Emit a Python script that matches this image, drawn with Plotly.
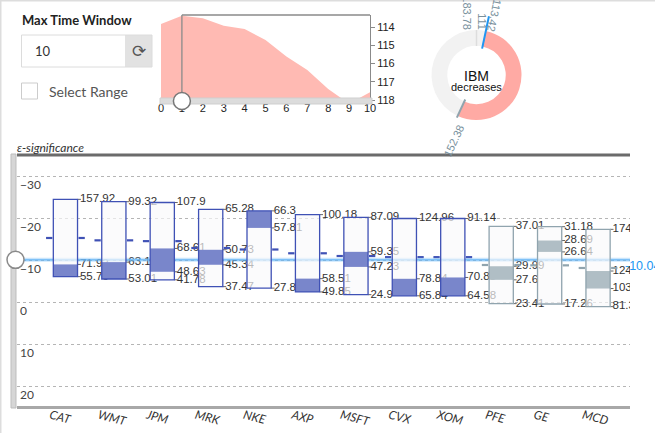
import math
import plotly.graph_objects as go

W, H = 655, 433

# ---- main chart data (epsilon-significance boxes) ----
tickers = ["CAT", "WMT", "JPM", "MRK", "NKE", "AXP", "MSFT", "CVX", "XOM", "PFE", "GE", "MCD"]
price_max = [157.92, 99.32, 107.9, 65.28, 66.3, 100.18, 87.09, 124.96, 91.14, 37.01, 31.18, 174]
price_min = [55.76, 53.01, 41.78, 37.47, 27.82, 49.85, 24.9, 65.84, 64.58, 23.41, 17.26, 81.3]
band_high = [71.92, 63.12, 68.61, 50.73, 66.3, 58.51, 59.35, 78.84, 70.88, 29.99, 28.69, 124]
band_low = [55.76, 53.01, 48.63, 45.34, 57.81, 49.85, 47.23, 65.84, 64.58, 27.6, 26.64, 103]
sig_center = [-15.24, -14.68, -14.49, -12.86, -12.5, -11.6, -10.95, -10.68, -10.68, -8.81, -8.73, -8.1]
threshold = -10.04
sig_ticks = [-30, -20, -10, 0, 10, 20]

# ---- time window chart ----
window_steps = [0, 1, 2, 3, 4, 5, 6, 7, 8, 9, 10]
window_values = [113.84, 113.38, 113.52, 113.93, 114.11, 114.71, 115.62, 116.35, 117.4, 118.2, 117.57]
window_ticks = [114, 115, 116, 117, 118]
window_selected = 1
window_max = 10

# ---- gauge ----
gauge_name = "IBM"
gauge_status = "decreases"
gauge_min, gauge_max = 111, 183.78
gauge_current, gauge_previous = 113.42, 152.38

INDIGO = "#3f51b5"
INDIGO_BAND = "#7986cb"
GREY = "#90a4ae"
GREY_BAND = "#b0bec5"
SALMON = "#ffaaa4"


def px(x):
    return x / W


def py(y):
    return 1 - y / H


fig = go.Figure()
shapes = []
annotations = []

# ---------------- main chart ----------------
HALF_W, HALF_H = 0.25, 9.2

dash_x = {INDIGO: [], GREY: []}
dash_y = {INDIGO: [], GREY: []}
tick_x, tick_y = [], []
lab_x, lab_y, lab_t = [], [], []
box_shapes = []

for i, t in enumerate(tickers):
    c = sig_center[i]
    top, bottom = c - HALF_H, c + HALF_H
    edge = INDIGO if c < threshold else GREY
    band = INDIGO_BAND if c < threshold else GREY_BAND

    def to_sig(p, i=i, top=top, bottom=bottom):
        return bottom - (p - price_min[i]) / (price_max[i] - price_min[i]) * (bottom - top)

    dash_x[edge] += [i - 0.40, i - 0.27, None, i + 0.27, i + 0.40, None]
    dash_y[edge] += [c, c, None, c, c, None]

    vals = []
    for v in [price_max[i], band_high[i], band_low[i], price_min[i]]:
        if v not in vals:
            vals.append(v)
    for v in vals:
        s = to_sig(v)
        tick_x += [i + HALF_W, i + 0.32, None]
        tick_y += [s, s, None]
        lab_x.append(i + 0.30)
        lab_y.append(s)
        lab_t.append(str(v))

    box_shapes.append(dict(type="rect", xref="x", yref="y", layer="above",
                           x0=i - HALF_W, x1=i + HALF_W, y0=top, y1=bottom,
                           fillcolor="rgba(249,249,251,0.68)", line=dict(width=0)))
    box_shapes.append(dict(type="rect", xref="x", yref="y", layer="above",
                           x0=i - HALF_W, x1=i + HALF_W,
                           y0=to_sig(band_high[i]), y1=to_sig(band_low[i]),
                           fillcolor=band, line=dict(width=0)))
    box_shapes.append(dict(type="rect", xref="x", yref="y", layer="above",
                           x0=i - HALF_W, x1=i + HALF_W, y0=top, y1=bottom,
                           fillcolor="rgba(0,0,0,0)",
                           line=dict(color=edge, width=1.3)))

fig.add_trace(go.Scatter(x=lab_x, y=lab_y, text=lab_t, mode="text",
                         textposition="middle right",
                         textfont=dict(family="Liberation Sans", size=11.5, color="#333"),
                         hoverinfo="skip", xaxis="x", yaxis="y"))
fig.add_trace(go.Scatter(x=tick_x, y=tick_y, mode="lines",
                         line=dict(color="#666", width=1), hoverinfo="skip"))
for col in (INDIGO, GREY):
    fig.add_trace(go.Scatter(x=dash_x[col], y=dash_y[col], mode="lines",
                             line=dict(color=col, width=2.2), hoverinfo="skip"))

# threshold line (under the boxes)
shapes.append(dict(type="line", xref="x domain", yref="y", x0=0, x1=1,
                   y0=threshold, y1=threshold, layer="above",
                   line=dict(color="rgba(100,181,246,0.35)", width=4)))
shapes.append(dict(type="line", xref="x domain", yref="y", x0=0, x1=1,
                   y0=threshold, y1=threshold, layer="above",
                   line=dict(color="#64b5f6", width=1.3)))
shapes += box_shapes

# top / left frame of the main chart
shapes.append(dict(type="line", xref="paper", yref="paper", x0=px(17), x1=px(630),
                   y0=py(155), y1=py(155), line=dict(color="#6b6b6b", width=3)))
shapes.append(dict(type="rect", xref="paper", yref="paper", x0=px(11), x1=px(16),
                   y0=py(408), y1=py(154), fillcolor="#d6d6d6", line=dict(color="#bdbdbd", width=1)))
shapes.append(dict(type="circle", xref="paper", yref="y", xsizemode="pixel", ysizemode="pixel",
                   xanchor=px(15.5), yanchor=threshold, x0=-8.5, x1=8.5, y0=-8.5, y1=8.5,
                   fillcolor="white", line=dict(color="#8a8a8a", width=1.5)))
annotations.append(dict(xref="paper", yref="y", x=px(623), y=threshold, text=str(threshold),
                        showarrow=False, xanchor="left", yanchor="middle", yshift=-6,
                        font=dict(family="Liberation Sans", size=12.5, color="#2196f3")))
annotations.append(dict(xref="paper", yref="paper", x=px(15), y=py(147), text="ε-significance",
                        showarrow=False, xanchor="left", yanchor="middle",
                        font=dict(family="Lato", size=12, color="#333", style="italic")))

# ---------------- time window area chart ----------------
fig.add_trace(go.Scatter(x=window_steps, y=[window_ticks[-1]] * len(window_steps),
                         mode="lines", line=dict(width=0), hoverinfo="skip",
                         xaxis="x2", yaxis="y2"))
fig.add_trace(go.Scatter(x=window_steps, y=window_values, mode="lines",
                         line=dict(width=0, color="#ffbab3"), fill="tonexty",
                         fillcolor="#ffbab3", hoverinfo="skip", xaxis="x2", yaxis="y2"))
shapes.append(dict(type="line", xref="x2", yref="y2 domain", x0=window_selected, x1=window_selected,
                   y0=0, y1=1, line=dict(color="#8a8a8a", width=1.3)))
shapes.append(dict(type="line", xref="x2", yref="y2 domain", x0=window_selected, x1=window_max,
                   y0=1, y1=1, line=dict(color="#8a8a8a", width=1.3)))
shapes.append(dict(type="rect", xref="paper", yref="paper", x0=px(160), x1=px(372),
                   y0=py(104), y1=py(98), fillcolor="#dcdcdc", line=dict(color="#cfcfcf", width=1)))
shapes.append(dict(type="circle", xref="x2", yref="paper", xsizemode="pixel", ysizemode="pixel",
                   xanchor=window_selected, yanchor=py(101), x0=-8.5, x1=8.5, y0=-8.5, y1=8.5,
                   fillcolor="white", line=dict(color="#777", width=1.5)))

# ---------------- gauge donut ----------------
span = gauge_max - gauge_min
th_cur = (gauge_current - gauge_min) / span * 360
th_prev = (gauge_previous - gauge_min) / span * 360
cx, cy, R = 476.5, 75, 45
fig.add_trace(go.Pie(values=[gauge_previous - gauge_current, span - (gauge_previous - gauge_current)],
                     rotation=th_cur, direction="clockwise", sort=False, hole=0.65,
                     marker=dict(colors=[SALMON, "#f2f2f2"], line=dict(width=0)),
                     textinfo="none", hoverinfo="skip",
                     domain=dict(x=[px(cx - R), px(cx + R)], y=[py(cy + R), py(cy - R)])))


def polar(theta, r):
    a = math.radians(theta)
    return px(cx + r * math.sin(a)), py(cy - r * math.cos(a))


for theta, r0, r1, col, wd in [(0, 29, 45, "#dddddd", 1.5),
                                (th_cur, 27, 60, "#2196f3", 2),
                                (th_prev, 27, 47, GREY, 2)]:
    x0, y0 = polar(theta, r0)
    x1, y1 = polar(theta, r1)
    shapes.append(dict(type="line", xref="paper", yref="paper", x0=x0, y0=y0, x1=x1, y1=y1,
                       line=dict(color=col, width=wd)))

for txt, theta, r, dth in [(gauge_max, 360, 62, -8.5), (gauge_min, 0, 54, 6),
                           (gauge_current, th_cur, 62, 5), (gauge_previous, th_prev, 69, -6)]:
    lx, ly = polar(theta + dth, r)
    ang = ((theta + 90 + 180) % 360) - 180
    annotations.append(dict(xref="paper", yref="paper", x=lx, y=ly, text=str(txt),
                            textangle=ang, showarrow=False, xanchor="center", yanchor="middle",
                            font=dict(family="Liberation Sans", size=11, color="#78909c")))

annotations.append(dict(xref="paper", yref="paper", x=px(cx), y=py(76), text=gauge_name,
                        showarrow=False, xanchor="center", yanchor="middle",
                        font=dict(family="Liberation Sans", size=14, color="#111")))
annotations.append(dict(xref="paper", yref="paper", x=px(cx), y=py(87), text=gauge_status,
                        showarrow=False, xanchor="center", yanchor="middle",
                        font=dict(family="Liberation Sans", size=11, color="#111")))

# ---------------- left controls ----------------
annotations.append(dict(xref="paper", yref="paper", x=px(20), y=py(20), text="<b>Max Time Window</b>",
                        showarrow=False, xanchor="left", yanchor="middle",
                        font=dict(family="Lato", size=13, color="#222")))
shapes.append(dict(type="rect", xref="paper", yref="paper", x0=px(125), x1=px(152),
                   y0=py(67), y1=py(35), fillcolor="#e2e2e2", line=dict(width=0)))
shapes.append(dict(type="rect", xref="paper", yref="paper", x0=px(21.5), x1=px(152),
                   y0=py(67), y1=py(35), fillcolor="rgba(0,0,0,0)", line=dict(color="#dcdcdc", width=1)))
annotations.append(dict(xref="paper", yref="paper", x=px(33), y=py(51), text=str(window_max),
                        showarrow=False, xanchor="left", yanchor="middle",
                        font=dict(family="Lato", size=13, color="#333")))
annotations.append(dict(xref="paper", yref="paper", x=px(139), y=py(51), text="⟳",
                        showarrow=False, xanchor="center", yanchor="middle",
                        font=dict(family="DejaVu Sans", size=17, color="#555")))
shapes.append(dict(type="rect", xref="paper", yref="paper", x0=px(21.5), x1=px(37.5),
                   y0=py(99), y1=py(83), fillcolor="white", line=dict(color="#cccccc", width=1)))
annotations.append(dict(xref="paper", yref="paper", x=px(47), y=py(91), text="Select Range",
                        showarrow=False, xanchor="left", yanchor="middle",
                        font=dict(family="Lato", size=14, color="#555")))

# page border
shapes.append(dict(type="line", xref="paper", yref="paper", x0=0, x1=1, y0=py(0.5), y1=py(0.5),
                   line=dict(color="#dddddd", width=2)))
shapes.append(dict(type="line", xref="paper", yref="paper", x0=px(0.5), x1=px(0.5), y0=0, y1=1,
                   line=dict(color="#dddddd", width=2)))

fig.update_layout(
    width=W, height=H, margin=dict(l=0, r=0, t=0, b=0, autoexpand=False),
    paper_bgcolor="white", plot_bgcolor="rgba(0,0,0,0)",
    showlegend=False, shapes=shapes, annotations=annotations,
    xaxis=dict(domain=[px(17), px(630)], range=[-1.0, 11.66], tickvals=list(range(len(tickers))),
               ticktext=tickers, tickangle=15, showgrid=False, zeroline=False, automargin=False,
               showline=True, linecolor="#a8a8a8", linewidth=3, ticks="",
               ticklabelshift=-15, ticklabelstandoff=-5,
               tickfont=dict(family="Lato", size=12, color="#333", style="italic"), anchor="y"),
    yaxis=dict(domain=[py(406), py(155)], range=[24.76, -35], tickvals=sig_ticks,
               ticklabelposition="inside bottom", showgrid=True, gridcolor="#b5b5b5",
               griddash="dot", gridwidth=1, zeroline=False, showline=False, ticks="",
               automargin=False, tickfont=dict(family="Lato", size=12, color="#444"), anchor="x"),
    xaxis2=dict(domain=[px(161), px(370)], range=[0, window_max], tickvals=window_steps,
                showgrid=False, zeroline=False, showline=False, ticks="", anchor="y2",
                automargin=False, tickfont=dict(family="Liberation Sans", size=11, color="#222")),
    yaxis2=dict(domain=[py(100), py(15)], range=[window_ticks[-1], 113.34], tickvals=window_ticks,
                side="right", showgrid=False, zeroline=False, showline=True, linecolor="#8a8a8a",
                ticks="outside", ticklen=4, tickcolor="#8a8a8a", anchor="x2", automargin=False,
                tickfont=dict(family="Liberation Sans", size=11, color="#222")),
)

fig.write_html("out.html", config={"displayModeBar": False},
               post_script="document.body.style.margin='0';")
